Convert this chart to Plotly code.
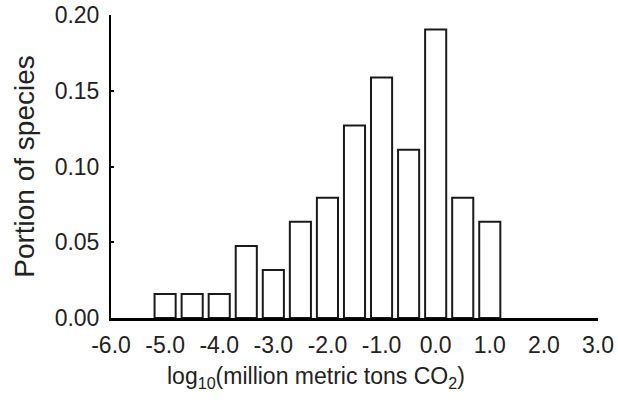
import plotly.graph_objects as go

bin_centers = [-5.0, -4.5, -4.0, -3.5, -3.0, -2.5, -2.0, -1.5, -1.0, -0.5, 0.0, 0.5, 1.0]
portion = [0.0159, 0.0159, 0.0159, 0.0476, 0.0317, 0.0635, 0.0794, 0.1270, 0.1587, 0.1111, 0.1905, 0.0794, 0.0635]
x_ticks = [-6.0, -5.0, -4.0, -3.0, -2.0, -1.0, 0.0, 1.0, 2.0, 3.0]
x_ticklabels = ["-6.0", "-5.0", "-4.0", "-3.0", "-2.0", "-1.0", "0.0", "1.0", "2.0", "3.0"]
y_ticks = [0.0, 0.05, 0.10, 0.15, 0.20]
y_ticklabels = ["0.00", "0.05", "0.10", "0.15", "0.20"]
x_title = "log<sub>10</sub>(million metric tons CO<sub>2</sub>)"
y_title = "Portion of species"

fig = go.Figure(go.Bar(
    x=bin_centers, y=portion,
    marker=dict(color="white", line=dict(color="#1a1a1a", width=2)),
))

fig.update_layout(
    width=618, height=400,
    margin=dict(l=111, r=20, t=15, b=82),
    plot_bgcolor="white", paper_bgcolor="white",
    bargap=0.22,
    showlegend=False,
    font=dict(family="Arial, Liberation Sans, sans-serif", color="#222"),
    annotations=[dict(
        text=x_title, xref="paper", yref="paper", x=0.421, y=-0.195,
        xanchor="center", yanchor="middle", showarrow=False,
        font=dict(size=23, color="#222"),
    )],
)
fig.update_xaxes(
    range=[-6, 3], tickvals=x_ticks, ticktext=x_ticklabels, automargin=False,
    showline=True, linecolor="#000", linewidth=3, ticks="", showgrid=False, zeroline=False,
    tickfont=dict(size=23), ticklabelstandoff=4,
)
fig.update_yaxes(
    range=[0, 0.2], tickvals=y_ticks, ticktext=y_ticklabels, automargin=False,
    showline=True, linecolor="#000", linewidth=2, ticks="inside", ticklen=3, tickwidth=2, tickcolor="#000",
    showgrid=False, zeroline=False,
    tickfont=dict(size=23), ticklabelstandoff=5,
    title=dict(text=y_title, font=dict(size=28), standoff=12),
)

fig.write_html("out.html")
